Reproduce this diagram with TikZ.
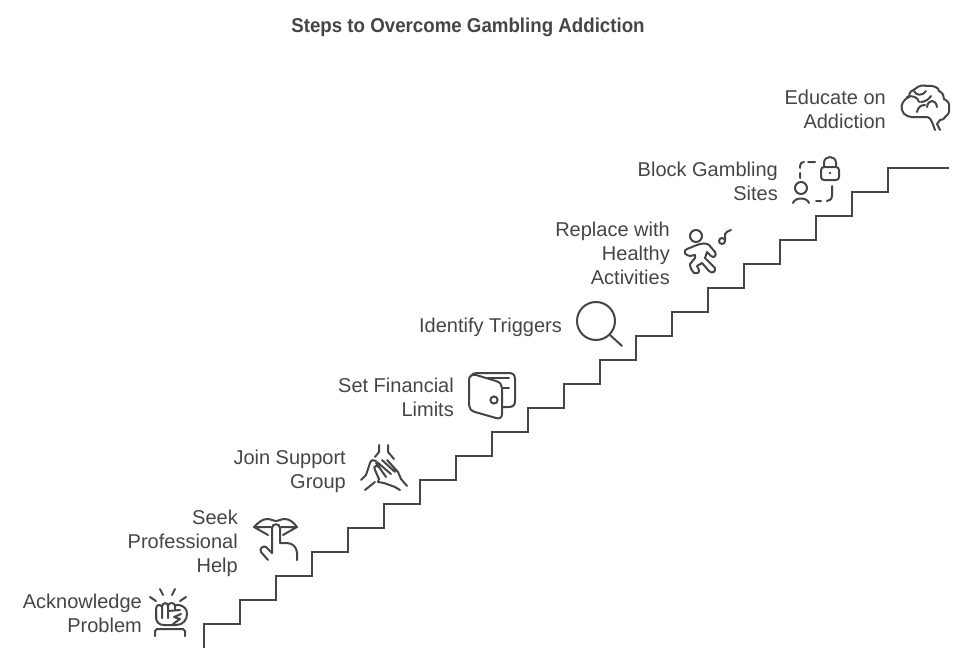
\documentclass[tikz,border=0pt]{standalone}
\usepackage{fontspec}
\setmainfont{Liberation Sans}
\newfontfamily\headfont[FakeStretch=0.935]{Liberation Sans}
\usetikzlibrary{positioning}
\definecolor{ink}{HTML}{454545}
\tikzset{
  steplabel/.style={anchor=east,align=right,ink,inner sep=0pt,text depth=0pt,font=\fontsize{20}{24}\selectfont},
  headline/.style={ink,inner sep=0pt,text depth=0pt,font=\fontsize{20}{24}\headfont\bfseries},
  stair/.style={ink,line width=2pt,line join=miter},
  icon/.style={ink,line width=2pt,line cap=round,line join=round}
}

\begin{document}
\begin{tikzpicture}[x=1pt,y=-1pt]
  \useasboundingbox (0,0) rectangle (962,661);
  \node[headline] (title) at (468,25) {Steps to Overcome Gambling Addiction};

  % staircase
  \draw[stair] plot[sharp plot] coordinates {
      (204,648)(204,624)(240,624)(240,600)(276,600)(276,576)(312,576)(312,552)
      (348,552)(348,528)(384,528)(384,504)(420,504)(420,480)(456,480)(456,456)
      (492,456)(492,432)(528,432)(528,408)(564,408)(564,384)(600,384)(600,360)
      (636,360)(636,336)(672,336)(672,312)(708,312)(708,288)(744,288)(744,264)
      (780,264)(780,240)(816,240)(816,216)(852,216)(852,192)(888,192)(888,168)
      (949,168)
    };

  % labels
  \node[steplabel] (acknowledge) at (142,613) {Acknowledge\\Problem};
  \node[steplabel] (seek) at (238,541) {Seek\\Professional\\Help};
  \node[steplabel] (join) at (346,469) {Join Support\\Group};
  \node[steplabel] (limits) at (454,397) {Set Financial\\Limits};
  \node[steplabel] (triggers) at (562,325) {Identify Triggers};
  \node[steplabel] (replace) at (670,253) {Replace with\\Healthy\\Activities};
  \node[steplabel] (block) at (778,181) {Block Gambling\\Sites};
  \node[steplabel] (educate) at (886,109) {Educate on\\Addiction};

  % fist
  \draw[icon] (160,589) -- (163,595) (175,589) -- (172,595)
    (150,597) -- (156,601) (186,597) -- (180,601);
  \draw[icon] (155,636) -- (155,631) -- (157,629) -- (183,629) -- (185,631) -- (185,636);
  \draw[icon] (156,612) -- (156,617) .. controls (156,622) and (159,625) .. (164,625)
    -- (176,625) .. controls (183,625) and (187,620) .. (187,614)
    .. controls (187,609) and (184,606) .. (179,605) -- (175,605);
  \draw[icon] (156,618) -- (156,609) .. controls (156,604) and (161,604) .. (162,607)
    -- (162,618)
    (162,607) .. controls (162,602) and (168,602) .. (168,606) -- (168,618)
    (168,606) .. controls (168,602) and (175,602) .. (175,606) -- (175,610);
  \draw[icon] (168,611) -- (180,610) (181,614) -- (174,617) -- (180,619) -- (173,624);

  % finger on lips
  \draw[icon] (254,527) .. controls (258,523) and (262,519) .. (267,519)
    .. controls (271,519) and (274,521) .. (276,521) .. controls (278,521) and (281,519) .. (285,519)
    .. controls (290,519) and (294,523) .. (297,527) -- (283,535)
    (254,527) -- (268,535) (254,527) -- (271,527) (281,527) -- (297,527);
  \draw[icon] (272,553) -- (272,528) .. controls (272,523) and (280,523) .. (280,528)
    -- (280,543) -- (287,543) .. controls (293,543) and (297,548) .. (297,553) -- (297,560);
  \draw[icon] (268,560) -- (261,552) .. controls (259,549) and (263,545) .. (266,547) -- (272,553);

  % hands
  \draw[icon] (379,445) -- (379,452) -- (375,457) (388,445) -- (388,452) -- (394,459);
  \draw[icon] (361,480) -- (366,475) -- (370,463) .. controls (371,460) and (374,459) .. (376,461);
  \draw[icon] (378,482) -- (384,483) -- (395,487) -- (400,490)
    (378,482) -- (379,479) -- (375,470) .. controls (373,466) and (376,465) .. (379,467);
  \draw[icon] (379,467) -- (386,477) (377,462) -- (391,474) (382,460) -- (395,472)
    (379,467) -- (376,463) (387,460) -- (398,472) -- (401,479) -- (407,486);
  \draw[icon] (375,482) -- (365,490);

  % wallet
  \draw[icon] (469,380) .. controls (469,376) and (472,374) .. (476,375) -- (496,381)
    .. controls (500,382) and (502,385) .. (502,388) -- (502,414)
    .. controls (502,418) and (499,419) .. (496,418) -- (475,412)
    .. controls (471,411) and (469,408) .. (469,405) -- cycle;
  \draw[icon] (471,376) .. controls (472,374) and (474,373) .. (477,373) -- (509,373)
    .. controls (513,373) and (515,375) .. (515,379) -- (515,401)
    .. controls (515,405) and (513,407) .. (509,407) -- (503,407);
  \draw[icon] (486,378) -- (509,378) (503,388) -- (509,388);
  \draw[icon] (494,400) circle[radius=3.6];

  % magnifier
  \draw[icon] (596,321) circle[radius=19];
  \draw[icon] (610,335) -- (622,346);

  % runner and note
  \draw[icon] (696,236) circle[radius=6];
  \draw[icon] (697,245) -- (687,249) .. controls (684,250) and (684,254) .. (687,255)
    -- (690,256) -- (695,255) -- (695,258) -- (690,264)
    .. controls (690,268) and (692,271) .. (694,273) .. controls (696,274) and (700,273) .. (699,270)
    -- (697,266) -- (702,263) -- (709,271) .. controls (712,274) and (716,272) .. (715,268)
    -- (705,258) -- (707,252) -- (711,256) .. controls (714,259) and (717,255) .. (715,252)
    -- (709,245) .. controls (707,243) and (702,243) .. (697,245);
  \draw[icon] (722,241) circle[radius=3];
  \draw[icon] (725,241) -- (725,234) .. controls (726,232) and (728,231) .. (731,230);

  % lock with dashed frame and person
  \draw[icon,rounded corners=3pt] (821,167) rectangle (839,180);
  \draw[icon] (824,167) -- (824,163) .. controls (824,155) and (836,155) .. (836,163) -- (836,167);
  \fill[ink] (830,173) circle[radius=1.4];
  \draw[icon] (800,168) -- (800,166) .. controls (800,163) and (802,162) .. (804,162)
    (808,162) -- (815,162) (800,173) -- (800,178)
    (832,186) -- (832,195) .. controls (832,199) and (830,201) .. (827,201)
    (816,201) -- (821,201);
  \draw[icon] (801,188) circle[radius=6];
  \draw[icon] (793,203) .. controls (795,197) and (807,197) .. (809,203);

  % brain
  \draw[icon] (917,117) .. controls (911,118) and (903,116) .. (902,110)
    .. controls (900,105) and (904,99) .. (909,97)
    .. controls (909,92) and (912,90) .. (915,89)
    .. controls (919,85) and (924,85) .. (927,86)
    .. controls (934,85) and (939,88) .. (939,91)
    .. controls (943,93) and (944,96) .. (944,99)
    .. controls (948,101) and (950,104) .. (949,107)
    .. controls (950,112) and (948,115) .. (946,116)
    .. controls (945,119) and (942,120) .. (940,120)
    -- (937,124) -- (940,130);
  \draw[icon] (917,117) -- (926,117) .. controls (930,117) and (931,120) .. (932,122) -- (935,130);
  \draw[icon] (907,97) .. controls (912,95) and (918,97) .. (919,102)
    (914,91) .. controls (916,96) and (923,96) .. (926,91)
    (927,107) .. controls (928,99) and (936,99) .. (937,107)
    (917,112) .. controls (918,107) and (921,105) .. (925,105)
    (921,102) .. controls (925,102) and (929,99) .. (931,96);
\end{tikzpicture}
\end{document}
